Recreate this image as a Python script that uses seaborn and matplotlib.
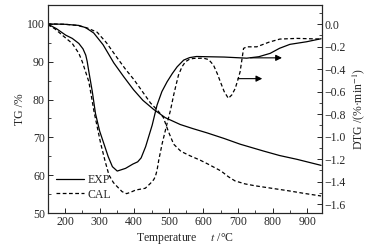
import matplotlib
matplotlib.use("Agg")
import matplotlib.pyplot as plt
import seaborn as sns
from matplotlib.ticker import MultipleLocator

# TG curves (left axis, %)
tg_exp_t = [150, 200, 240, 260, 283, 310, 341, 370, 398, 425, 456, 490, 533, 570, 610,
            660, 706, 773, 820, 870, 940]
tg_exp = [100, 99.9, 99.6, 99.0, 97.6, 94.5, 89.7, 86.0, 82.6, 79.8, 77.4, 75.2, 73.4,
          72.3, 71.2, 69.7, 68.2, 66.4, 65.2, 64.2, 62.6]
tg_cal_t = [150, 200, 236, 265, 293, 320, 351, 375, 399, 423, 447, 466, 484, 499, 514,
            535, 562, 590, 614, 651, 672, 691, 720, 749, 800, 844, 890, 940]
tg_cal = [100, 99.9, 99.6, 98.9, 97.8, 95.0, 91.0, 88.0, 85.3, 82.2, 79.1, 77.3, 75.3,
          71.5, 68.2, 66.3, 65.1, 64.0, 62.9, 61.1, 59.6, 58.5, 57.7, 57.2, 56.5, 55.9,
          55.2, 54.5]

# DTG curves (right axis, %/min)
dtg_exp_t = [150, 175, 202, 221, 240, 252, 260, 264, 269, 279, 288, 300, 312, 325, 337,
             351, 363, 375, 396, 410, 420, 433, 452, 466, 480, 495, 510, 524, 543, 560,
             580, 610, 660, 706, 725, 760, 793, 820, 850, 898, 940]
dtg_exp = [0.0, -0.04, -0.098, -0.127, -0.172, -0.22, -0.276, -0.33, -0.424, -0.602,
           -0.794, -0.95, -1.06, -1.18, -1.268, -1.307, -1.295, -1.283, -1.245, -1.225,
           -1.19, -1.09, -0.898, -0.72, -0.60, -0.513, -0.44, -0.38, -0.32, -0.298,
           -0.288, -0.29, -0.293, -0.30, -0.303, -0.29, -0.26, -0.215, -0.18, -0.157, -0.13]
dtg_cal_t = [150, 170, 192, 221, 240, 250, 269, 284, 303, 316, 327, 340, 351, 365, 378,
             390, 404, 432, 447, 456, 461, 466, 471, 481, 495, 505, 514, 521, 528, 538,
             548, 560, 572, 600, 615, 629, 640, 649, 660, 672, 682, 692, 700, 706, 712,
             716, 725, 754, 790, 821, 870, 940]
dtg_cal = [-0.005, -0.04, -0.098, -0.172, -0.26, -0.335, -0.513, -0.78, -1.06, -1.22,
           -1.342, -1.41, -1.446, -1.49, -1.508, -1.495, -1.476, -1.46, -1.416, -1.385,
           -1.357, -1.30, -1.209, -1.06, -0.883, -0.764, -0.631, -0.54, -0.453, -0.38,
           -0.335, -0.312, -0.305, -0.303, -0.315, -0.364, -0.44, -0.513, -0.60, -0.66,
           -0.63, -0.572, -0.49, -0.424, -0.30, -0.216, -0.202, -0.202, -0.16, -0.133,
           -0.127, -0.133]

sns.set_style("ticks")
plt.rcParams["font.family"] = ["Liberation Serif", "DejaVu Serif"]
plt.rcParams["mathtext.fontset"] = "stix"
plt.rcParams["xtick.direction"] = "in"
plt.rcParams["ytick.direction"] = "in"

fig = plt.figure(figsize=(3.77, 2.5), dpi=100)
ax = fig.add_axes([0.1265, 0.148, 0.727, 0.832])
ax2 = ax.twinx()

dash = (0, (3, 2))
sns.lineplot(x=tg_exp_t, y=tg_exp, ax=ax, color="black", lw=0.9, label="EXP")
sns.lineplot(x=tg_cal_t, y=tg_cal, ax=ax, color="black", lw=0.9, linestyle=dash, label="CAL")
sns.lineplot(x=dtg_exp_t, y=dtg_exp, ax=ax2, color="black", lw=0.9)
sns.lineplot(x=dtg_cal_t, y=dtg_cal, ax=ax2, color="black", lw=0.9, linestyle=dash)

# arrows pointing to the right axis
ax2.annotate("", xy=(835, -0.30), xytext=(728, -0.30),
             arrowprops=dict(arrowstyle="-|>", color="black", lw=0.8, mutation_scale=9))
ax2.annotate("", xy=(778, -0.485), xytext=(692, -0.485),
             arrowprops=dict(arrowstyle="-|>", color="black", lw=0.8, mutation_scale=9))

ax.set_xlim(150, 942)
ax.set_ylim(50, 105)
ax2.set_ylim(-1.68, 0.17)

ax.xaxis.set_minor_locator(MultipleLocator(50))
ax.yaxis.set_minor_locator(MultipleLocator(5))
ax2.yaxis.set_minor_locator(MultipleLocator(0.1))
ax.set_xticks([200, 300, 400, 500, 600, 700, 800, 900])
ax.set_yticks([50, 60, 70, 80, 90, 100])
ax2.set_yticks([0.0, -0.2, -0.4, -0.6, -0.8, -1.0, -1.2, -1.4, -1.6])
ax2.set_yticklabels(["0.0", "\u22120.2", "\u22120.4", "\u22120.6", "\u22120.8",
                     "\u22121.0", "\u22121.2", "\u22121.4", "\u22121.6"])

for a in (ax, ax2):
    a.tick_params(which="major", length=3.5, width=0.7, labelsize=8.5, pad=2)
    a.tick_params(which="minor", length=2, width=0.6)
    for s in a.spines.values():
        s.set_linewidth(0.8)
ax.tick_params(axis="y", right=False)
ax2.tick_params(axis="y", left=False)

ax.set_xlabel("Temperature     $\\it{t}$ /\u00b0C", fontsize=8.5, labelpad=2)
ax.set_ylabel("TG /%", fontsize=8.5, labelpad=1)
ax2.set_ylabel("DTG /(%\u00b7min$^{-1}$)", fontsize=8.5, labelpad=3)

ax.legend(loc="lower left", bbox_to_anchor=(0.0, 0.02), frameon=False, fontsize=8.5,
          handlelength=2.4, handletextpad=0.3, labelspacing=0.2, borderaxespad=0.3)

fig.savefig("out.png", dpi=100)
